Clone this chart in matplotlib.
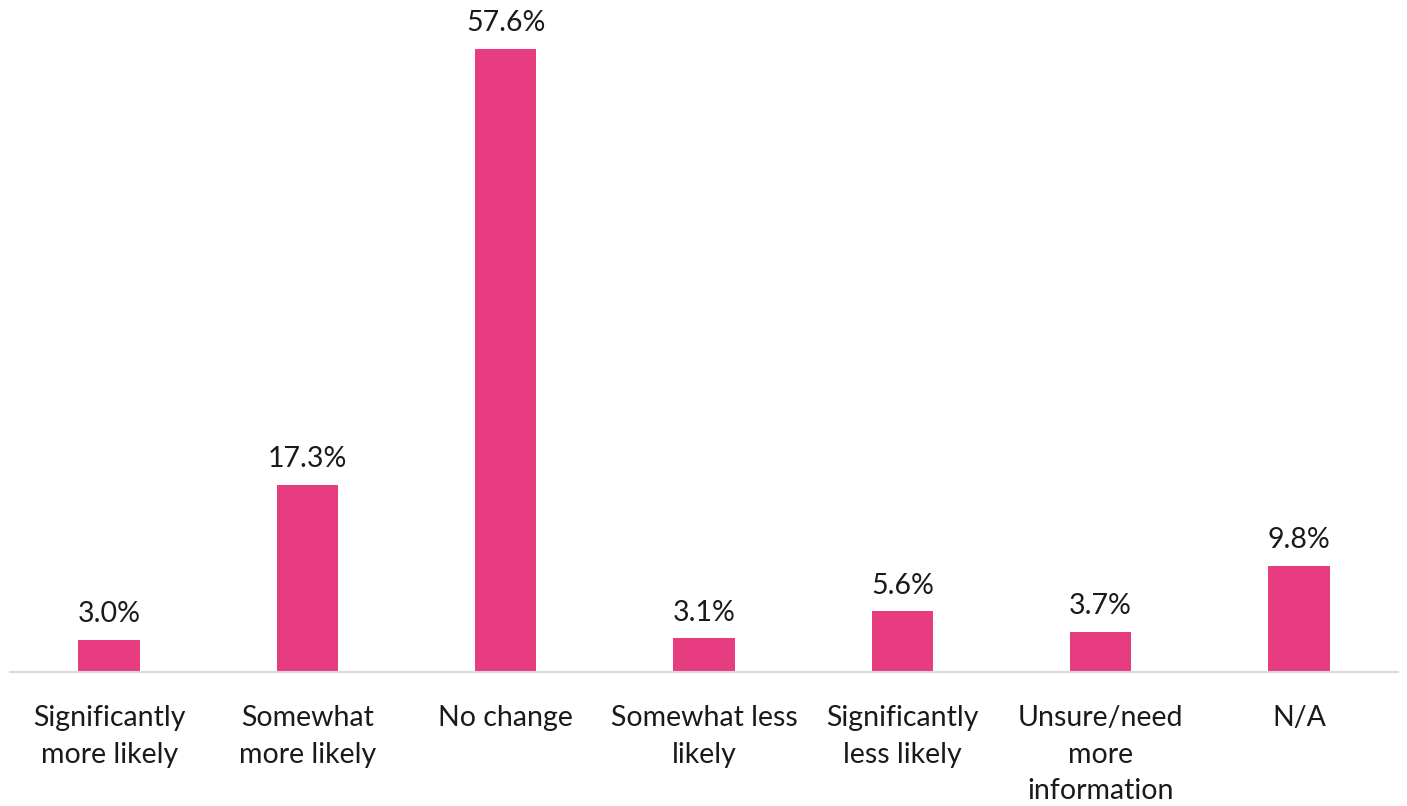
import matplotlib
matplotlib.use("Agg")
import matplotlib.pyplot as plt

categories = ["Significantly\nmore likely", "Somewhat\nmore likely", "No change",
              "Somewhat less\nlikely", "Significantly\nless likely",
              "Unsure/need\nmore\ninformation", "N/A"]
values = [3.0, 17.3, 57.6, 3.1, 5.6, 3.7, 9.8]
labels = ["3.0%", "17.3%", "57.6%", "3.1%", "5.6%", "3.7%", "9.8%"]

plt.rcParams['font.family'] = ['Lato', 'DejaVu Sans']

fig = plt.figure(figsize=(14.07, 8.06), dpi=100)
ax = fig.add_axes([10/1407, 1 - 672/806, 1388/1407, 672/806])
x = list(range(len(categories)))
ax.bar(x, values, width=0.31, color="#E83C80")
for xi, v, lab in zip(x, values, labels):
    ax.annotate(lab, (xi, v), xytext=(0, 9), textcoords="offset points",
                ha="center", va="bottom", fontsize=20.5, color="#1a1a1a")
ax.set_xlim(-0.5, len(categories) - 0.5)
ax.set_ylim(0, 62.1)
ax.set_yticks([])
ax.set_xticks(x)
ax.set_xticklabels(categories, fontsize=20.5, color="#1a1a1a", linespacing=1.5)
ax.tick_params(axis='x', length=0, pad=24)
for s in ["top", "right", "left"]:
    ax.spines[s].set_visible(False)
ax.spines["bottom"].set_color("#D9D9D9")
ax.spines["bottom"].set_linewidth(1.5)
fig.savefig("out.png", dpi=100)
